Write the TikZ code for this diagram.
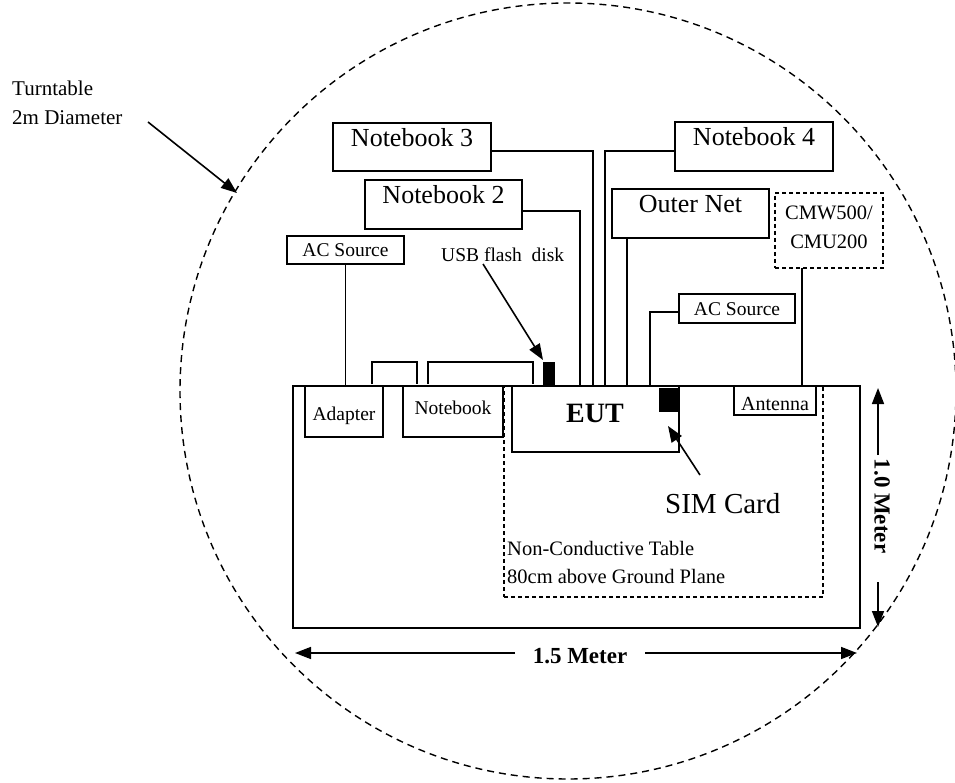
\documentclass[tikz,border=0pt]{standalone}
\usepackage{fontspec}
\setmainfont{Liberation Serif}
\usetikzlibrary{arrows.meta}
\newcommand{\fsz}[1]{\fontsize{#1}{#1}\selectfont}
\tikzset{
  box/.style={draw, line width=1.3pt, inner sep=0pt, outer sep=0pt},
  dbox/.style={draw, dash pattern=on 4pt off 3pt, line width=1.1pt, inner sep=0pt, outer sep=0pt},
  cable/.style={line width=1.4pt},
  arr/.style={line width=1.6pt, -{Triangle[length=16pt,width=12pt]}},
  lbl/.style={inner sep=0pt, anchor=base},
  lbll/.style={inner sep=0pt, anchor=base west},
}
\begin{document}
\begin{tikzpicture}[x=1pt,y=-1pt]
\useasboundingbox (0,0) rectangle (955,783);
% turntable
\draw[dash pattern=on 7pt off 5pt, line width=1.4pt] (568,391) circle[radius=388];
\node[lbll, font=\fsz{21}] (turn1) at (12,96) {Turntable};
\node[lbll, font=\fsz{21}] (turn2) at (12,125) {2m Diameter};
\coordinate (ta) at (148,122);
\coordinate (tb) at (237,193);
\draw[arr] (ta) -- (tb);
% table
\node[box, line width=2.4pt, minimum width=567pt, minimum height=242pt] (table) at (576.5,507) {};
\node[dbox, minimum width=319pt, minimum height=211pt] (ntab) at (663.5,491.5) {};
\node[lbll, font=\fsz{20.5}] (nt1) at (507,555) {Non-Conductive Table};
\node[lbll, font=\fsz{20.5}] (nt2) at (507,583) {80cm above Ground Plane};
% devices on table
\node[box, minimum width=78pt, minimum height=51pt] (adapter) at (344,411.5) {};
\node[lbl, font=\fsz{19.5}] (tadapter) at (344,420) {Adapter};
\node[box, minimum width=100pt, minimum height=51pt] (nbk) at (453,411.5) {};
\node[lbl, font=\fsz{19.5}] (tnbk) at (453,414) {Notebook};
\node[box, minimum width=167pt, minimum height=66pt] (eut) at (595.5,419) {};
\node[lbl, font=\bfseries\fsz{28}] (teut) at (595,422) {EUT};
\node[fill=black, inner sep=0pt, outer sep=0pt, minimum width=21pt, minimum height=24pt] (sim) at (669.5,400) {};
\node[fill=black, inner sep=0pt, outer sep=0pt, minimum width=12pt, minimum height=24pt] (usb) at (549,374) {};
\node[box, minimum width=82pt, minimum height=29pt] (ant) at (775,400.5) {};
\node[lbl, font=\fsz{20}] (tant) at (775,410) {Antenna};
% outside boxes
\node[box, minimum width=158pt, minimum height=48pt] (nb3) at (412,147) {};
\node[lbl, font=\fsz{26}] (tnb3) at (412,147) {Notebook 3};
\node[box, minimum width=157pt, minimum height=49pt] (nb2) at (443.5,204.5) {};
\node[lbl, font=\fsz{26}] (tnb2) at (443.5,204) {Notebook 2};
\node[box, minimum width=158pt, minimum height=49pt] (nb4) at (754,146.5) {};
\node[lbl, font=\fsz{26}] (tnb4) at (754,146) {Notebook 4};
\node[box, minimum width=157pt, minimum height=49pt] (onet) at (690.5,213.5) {};
\node[lbl, font=\fsz{26}] (tonet) at (690.5,213) {Outer Net};
\node[dbox, minimum width=108pt, minimum height=75pt] (cmw) at (829,230.5) {};
\node[lbl, font=\fsz{20.5}] (tcmw1) at (829,220) {CMW500/};
\node[lbl, font=\fsz{20.5}] (tcmw2) at (829,249) {CMU200};
\node[box, minimum width=116pt, minimum height=29pt] (acr) at (737,308.5) {};
\node[lbl, font=\fsz{19.5}] (tacr) at (737,316) {AC Source};
\node[box, minimum width=117pt, minimum height=28pt] (acl) at (345.5,250) {};
\node[lbl, font=\fsz{19.5}] (tacl) at (345.5,257) {AC Source};
\node[lbll, font=\fsz{19.5}] (tusb) at (441,262) {USB flash\ \ disk};
\node[lbll, font=\fsz{29}] (tsim) at (665,513) {SIM Card};
% cables
\coordinate (c2) at (580,386);
\coordinate (c3) at (593,386);
\coordinate (c4) at (605,386);
\coordinate (c5) at (627,386);
\coordinate (c6) at (650,386);
\draw[cable] ([yshift=-4pt]nb3.east) -| (c3);
\draw[cable] ([yshift=-6.5pt]nb2.east) -| (c2);
\draw[cable] ([yshift=-4.5pt]nb4.west) -| (c4);
\draw[cable] (onet.south -| c5) -- (c5);
\draw[cable] ([yshift=-3.5pt]acr.west) -| (c6);
\draw[cable] (cmw.south -| 802,0) -- (ant.north -| 802,0);
\draw[cable] (acl.south) -- (acl.south |- table.north);
\draw[cable] ([xshift=28pt,yshift=2pt]adapter.north) -- ++(0,-22) -| ([xshift=-36pt,yshift=2pt]nbk.north);
\draw[cable] ([xshift=-25pt,yshift=2pt]nbk.north) -- ++(0,-22) -| ([xshift=-10pt,yshift=2pt]usb.south west);
% pointer arrows
\coordinate (ua) at (483,264);
\coordinate (ub) at (543,360);
\draw[arr] (ua) -- (ub);
\coordinate (sa) at (700,475);
\coordinate (sb) at (668,426);
\draw[arr] (sa) -- (sb);
% dimensions
\node[font=\bfseries\fsz{23}, inner sep=0pt] (dimh) at (580,656) {1.5 Meter};
\coordinate (hl) at (295,653);
\coordinate (hr) at (857,653);
\draw[arr] (515,653) -- (hl);
\draw[arr] (645,653) -- (hr);
\node[font=\bfseries\fsz{23}, inner sep=0pt, rotate=-90] (dimv) at (882,506) {1.0 Meter};
\coordinate (vt) at (878,388);
\coordinate (vb) at (878,627);
\draw[arr] (878,455) -- (vt);
\draw[arr] (878,582) -- (vb);
\end{tikzpicture}
\end{document}
